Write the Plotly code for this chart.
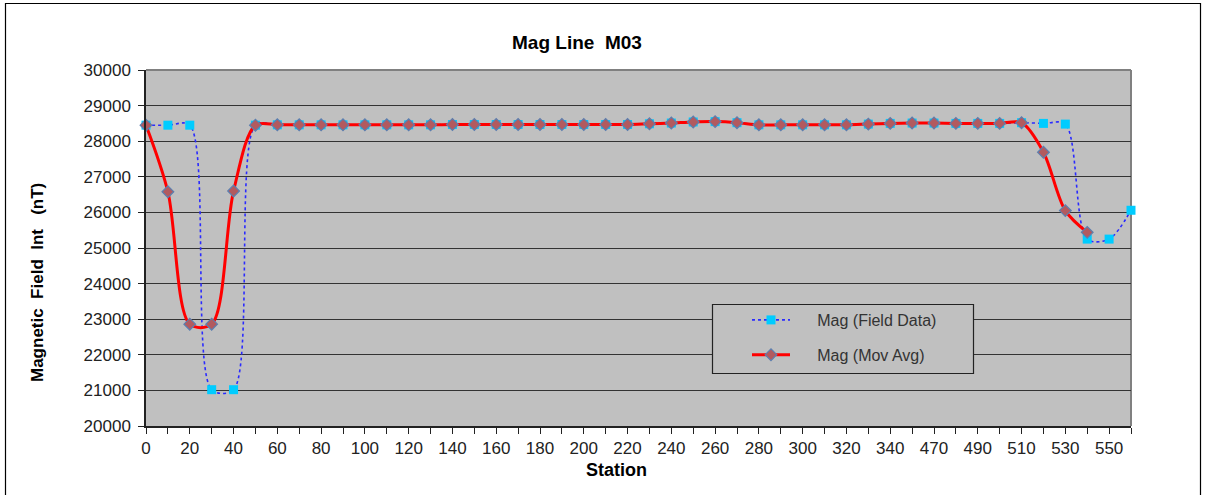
import plotly.graph_objects as go

stations = ["0", "10", "20", "30", "40", "50", "60", "70", "80", "90",
            "100", "110", "120", "130", "140", "150", "160", "170", "180", "190",
            "200", "210", "220", "230", "240", "250", "260", "270", "280", "290",
            "300", "310", "320", "330", "340", "350", "470", "480", "490", "500",
            "510", "520", "530", "540", "550", "560"]

field_data = [28450, 28450, 28450, 21020, 21020, 28450, 28460, 28460, 28460, 28460,
              28460, 28460, 28460, 28460, 28470, 28470, 28470, 28470, 28470, 28470,
              28470, 28470, 28470, 28490, 28510, 28540, 28550, 28520, 28460, 28460,
              28460, 28460, 28460, 28480, 28500, 28510, 28510, 28500, 28500, 28500,
              28520, 28500, 28480, 25250, 25250, 26060]

mov_avg = [28450, 26580, 22860, 22860, 26600, 28450, 28460, 28460, 28460, 28460,
           28460, 28460, 28460, 28460, 28470, 28470, 28470, 28470, 28470, 28470,
           28470, 28470, 28470, 28490, 28510, 28540, 28550, 28520, 28460, 28460,
           28460, 28460, 28460, 28480, 28500, 28510, 28510, 28500, 28500, 28500,
           28520, 27690, 26050, 25440, None, None]

tick_text = [s if i % 2 == 0 else "" for i, s in enumerate(stations)]

FONT = "Liberation Sans, Arial, sans-serif"
PAD = "&nbsp;" * 5

fig = go.Figure()
fig.add_trace(go.Scatter(
    x=stations, y=field_data, name=PAD + "Mag (Field Data)", mode="lines+markers",
    line=dict(color="#2a2aff", width=1.6, dash="dot", shape="spline", smoothing=0.9),
    marker=dict(symbol="square", size=9, color="#00ccff", line=dict(width=0)),
    cliponaxis=False, legendgroup="a",
))
fig.add_trace(go.Scatter(
    x=stations, y=mov_avg, name=PAD + "Mag (Mov Avg)", mode="lines+markers",
    line=dict(color="#ff0000", width=3, shape="spline", smoothing=0.9),
    marker=dict(symbol="diamond", size=9, color="#b25a5f", line=dict(width=1.2, color="#5b7fb0")),
    cliponaxis=False, legendgroup="b",
))

L, R, T, B = 146, 1131, 70, 426
W, H = 1205, 495
pw, ph = R - L, B - T

def px(x):
    return (x - L) / pw

def py(y):
    return (B - y) / ph

fig.update_layout(
    width=W, height=H,
    margin=dict(l=L, r=W - R, t=T, b=H - B, autoexpand=False),
    paper_bgcolor="white", plot_bgcolor="#c0c0c0",
    font=dict(family=FONT, size=17, color="#222222"),
    showlegend=True,
    legend=dict(x=px(747), y=py(303), xanchor="left", yanchor="top",
                bgcolor="rgba(0,0,0,0)", borderwidth=0,
                font=dict(size=16, color="#333333"), tracegroupgap=11,
                itemwidth=38),
    xaxis=dict(type="category", categoryorder="array", categoryarray=stations,
               range=[0, len(stations) - 1], tickmode="array", tickvals=stations,
               ticktext=tick_text, ticks="outside", ticklen=6, tickcolor="#222222",
               showline=True, linecolor="#222222", linewidth=1.5, showgrid=False,
               zeroline=False, tickfont=dict(size=17, color="#222222")),
    yaxis=dict(range=[20000, 30000], dtick=1000, tickformat="d", ticks="outside", ticklen=6,
               ticklabelstandoff=4,
               tickcolor="#222222", showline=True, linecolor="#222222", linewidth=1.5,
               showgrid=True, gridcolor="#333333", gridwidth=1.2, zeroline=False,
               tickfont=dict(size=17, color="#222222")),
    shapes=[
        dict(type="line", xref="paper", yref="paper", x0=0, x1=1, y0=1, y1=1,
             line=dict(color="#808080", width=2), layer="below"),
        dict(type="line", xref="paper", yref="paper", x0=1, x1=1, y0=0, y1=1,
             line=dict(color="#808080", width=2), layer="below"),
        dict(type="rect", xref="paper", yref="paper", x0=px(712.5), x1=px(973.5),
             y0=py(373.5), y1=py(304.5), fillcolor="#c0c0c0",
             line=dict(color="#222222", width=1.2), layer="above"),
        dict(type="rect", xref="paper", yref="paper", x0=px(5.5), x1=px(1200.5),
             y0=py(500), y1=py(3.5), line=dict(color="#000000", width=1.2)),
    ],
    annotations=[
        dict(text="<b>Mag&nbsp;Line&nbsp;&nbsp;M03</b>", xref="paper", yref="paper", x=px(577), y=py(42),
             showarrow=False, font=dict(size=19, color="#000000"), xanchor="center", yanchor="middle"),
        dict(text="<b>Station</b>", xref="paper", yref="paper", x=px(616), y=py(470),
             showarrow=False, font=dict(size=18, color="#000000"), xanchor="center", yanchor="middle"),
        dict(text="<b>Magnetic&nbsp;&nbsp;Field&nbsp;&nbsp;Int&nbsp;&nbsp;&nbsp;(nT)</b>", xref="paper", yref="paper",
             x=px(37), y=py(283), textangle=-90, showarrow=False,
             font=dict(size=17, color="#000000"), xanchor="center", yanchor="middle"),
    ],
)

fig.write_html("out.html", config={"displayModeBar": False},
               post_script="document.body.style.margin='0';document.body.style.overflow='hidden';")
